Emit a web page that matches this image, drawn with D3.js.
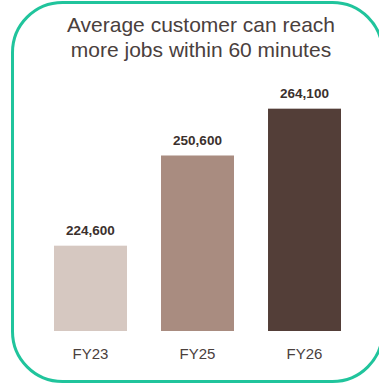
<!DOCTYPE html>
<html>
<head>
<meta charset="utf-8">
<script src="https://cdn.jsdelivr.net/npm/d3@7"></script>
<style>
  body { margin: 0; background: #fff; }
  svg { display: block; font-family: "Liberation Sans", Arial, sans-serif; }
</style>
</head>
<body>
<div id="chart"></div>
<script>
// data
var categories = ["FY23", "FY25", "FY26"];
var values = [224600, 250600, 264100];
var colors = ["#d6c8c1", "#a98c80", "#533e38"];
var titleLines = ["Average customer can reach", "more jobs within 60 minutes"];

var width = 379, height = 385;

var svg = d3.select("#chart").append("svg")
  .attr("width", width)
  .attr("height", height);

// rounded green frame
svg.append("rect")
  .attr("x", 12.5)
  .attr("y", 2.5)
  .attr("width", 370)
  .attr("height", 379)
  .attr("rx", 50)
  .attr("ry", 50)
  .attr("fill", "#fff")
  .attr("stroke", "#20c49c")
  .attr("stroke-width", 3);

// title
svg.selectAll(".title")
  .data(titleLines)
  .enter().append("text")
  .attr("class", "title")
  .attr("x", 201)
  .attr("y", function (d, i) { return 32 + i * 25; })
  .attr("text-anchor", "middle")
  .attr("fill", "#4a403d")
  .style("font-size", "21px")
  .text(function (d) { return d; });

// scales
var x = d3.scaleBand()
  .domain(categories)
  .range([32.6, 362.4])
  .paddingInner(0.318)
  .paddingOuter(0.2);

var y = d3.scaleLinear()
  .domain([200000, 270000])
  .range([331, 88.2]);

var fmt = d3.format(",");

svg.selectAll(".bar")
  .data(values)
  .enter().append("rect")
  .attr("class", "bar")
  .attr("x", function (d, i) { return x(categories[i]); })
  .attr("width", x.bandwidth())
  .attr("y", function (d) { return y(d); })
  .attr("height", function (d) { return y(200000) - y(d); })
  .attr("fill", function (d, i) { return colors[i]; });

svg.selectAll(".val")
  .data(values)
  .enter().append("text")
  .attr("class", "val")
  .attr("x", function (d, i) { return x(categories[i]) + x.bandwidth() / 2; })
  .attr("y", function (d) { return y(d) - 10.5; })
  .attr("text-anchor", "middle")
  .attr("fill", "#3b302d")
  .style("font-size", "13.5px")
  .style("font-weight", "bold")
  .text(function (d) { return fmt(d); });

// x axis labels
var xAxis = svg.append("g")
  .attr("transform", "translate(0,331)")
  .call(d3.axisBottom(x).tickSize(0).tickPadding(17));
xAxis.select(".domain").remove();
xAxis.selectAll("text")
  .attr("fill", "#4a403d")
  .style("font-size", "15px")
  .style("font-family", "'Liberation Sans', Arial, sans-serif");
</script>
</body>
</html>
